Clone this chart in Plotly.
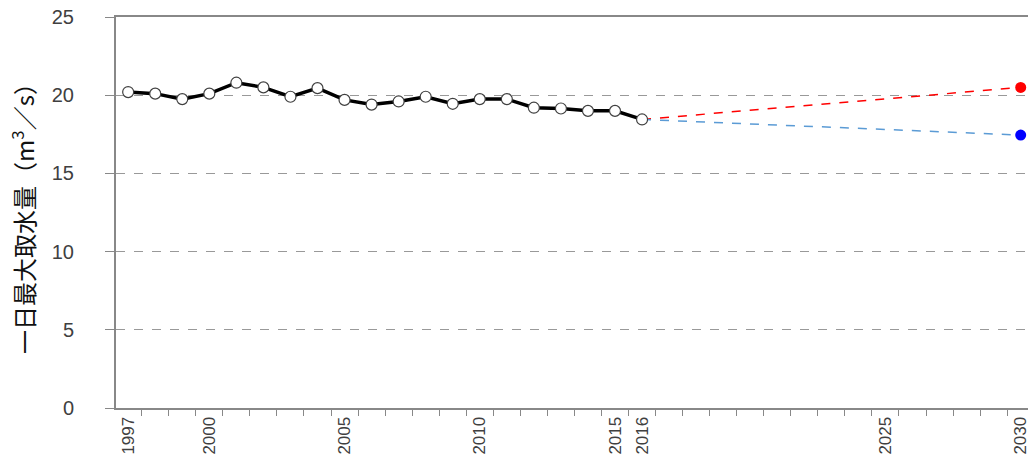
import plotly.graph_objects as go

years = [str(y) for y in range(1997, 2031)]
hist_years = [str(y) for y in range(1997, 2017)]
hist_values = [20.2, 20.1, 19.75, 20.1, 20.8, 20.5, 19.9, 20.45, 19.7, 19.4,
               19.6, 19.9, 19.45, 19.75, 19.75, 19.2, 19.15, 19.0, 19.0, 18.45]
high_years = ["2016", "2030"]
high_values = [18.45, 20.5]
low_years = ["2016", "2030"]
low_values = [18.45, 17.45]
label_years = ["1997", "2000", "2005", "2010", "2015", "2016", "2025", "2030"]

fig = go.Figure()
fig.add_trace(go.Scatter(x=high_years, y=high_values, mode="lines",
                         line=dict(color="#ff0000", width=1.5, dash="dash"), showlegend=False))
fig.add_trace(go.Scatter(x=low_years, y=low_values, mode="lines",
                         line=dict(color="#5b9bd5", width=1.5, dash="dash"), showlegend=False))
fig.add_trace(go.Scatter(x=[high_years[1]], y=[high_values[1]], mode="markers",
                         marker=dict(color="#ff0000", size=11), showlegend=False, cliponaxis=False))
fig.add_trace(go.Scatter(x=[low_years[1]], y=[low_values[1]], mode="markers",
                         marker=dict(color="#0000ff", size=11), showlegend=False, cliponaxis=False))
fig.add_trace(go.Scatter(x=hist_years, y=hist_values, mode="lines+markers",
                         line=dict(color="#000000", width=3.5),
                         marker=dict(color="#ffffff", size=11, line=dict(color="#404040", width=1.2)),
                         showlegend=False))

fig.update_layout(
    width=1028, height=465,
    margin=dict(l=116, r=0, t=17, b=57, autoexpand=False),
    paper_bgcolor="white", plot_bgcolor="white",
    font=dict(family="Liberation Sans, Noto Sans", color="#404040"),
)
fig.update_xaxes(
    type="category", categoryorder="array", categoryarray=years,
    range=[-0.45, 33.27], automargin=False,
    tickmode="array", tickvals=years,
    ticktext=[y if y in label_years else "" for y in years],
    tickson="boundaries", ticks="outside", ticklen=6, tickcolor="#888888",
    tickangle=-90, tickfont=dict(size=17, color="#404040"),
    showgrid=False, showline=True, linecolor="#888888", linewidth=2,
    mirror=True, zeroline=False,
)
fig.update_yaxes(
    range=[0, 25], tickmode="array", tickvals=[0, 5, 10, 15, 20, 25],
    automargin=False,
    ticks="outside", ticklen=9, tickcolor="#888888", ticklabelstandoff=27,
    tickfont=dict(size=20, color="#404040"),
    showgrid=True, gridcolor="#999999", griddash="dash", gridwidth=1,
    showline=True, linecolor="#888888", linewidth=2, zeroline=False,
    title=dict(text="一日最大取水量（m<sup>3</sup>／s）",
               font=dict(size=24, color="#111111", family="Noto Sans CJK JP"),
               standoff=10),
)

fig.write_html(
    "out.html",
    config={"displayModeBar": False},
    post_script="document.body.style.margin='0';document.body.style.overflow='hidden';",
)
